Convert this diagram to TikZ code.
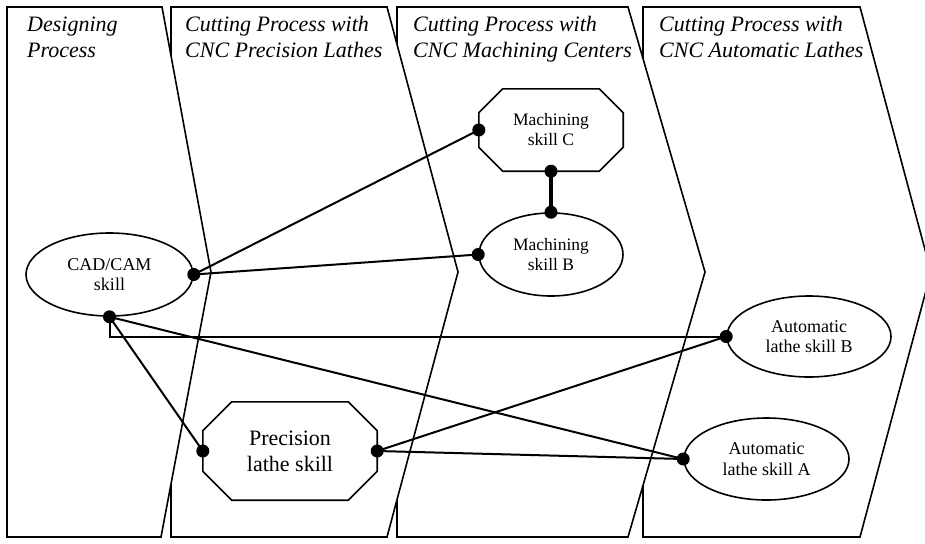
\documentclass[tikz,border=0pt]{standalone}
\usepackage{fontspec}
\setmainfont{Liberation Serif}
\usetikzlibrary{calc,shapes.geometric}
\newcommand{\octpath}[2]{%
  \draw[octline] ($(#1.north west)+(#2,0)$) -- ($(#1.north east)+(-#2,0)$)
    -- ($(#1.north east)+(0,#2)$) -- ($(#1.south east)+(0,-#2)$)
    -- ($(#1.south east)+(-#2,0)$) -- ($(#1.south west)+(#2,0)$)
    -- ($(#1.south west)+(0,-#2)$) -- ($(#1.north west)+(0,#2)$) -- cycle;}
\begin{document}
\begin{tikzpicture}[x=1pt,y=-1pt,
  lane/.style={draw=black,fill=white,line width=1.6pt,line join=miter},
  conn/.style={line width=2pt},
  thickconn/.style={line width=4pt},
  skill/.style={draw,ellipse,line width=1.6pt,inner sep=0pt,align=center},
  octbox/.style={inner sep=0pt,align=center},
  octline/.style={line width=1.6pt},
  head/.style={anchor=base west,inner sep=0pt,font=\fontsize{22}{26}\selectfont\itshape},
  fmach/.style={font=\fontsize{17.5}{20}\selectfont},
  fmid/.style={font=\fontsize{18}{20.5}\selectfont},
  fbig/.style={font=\fontsize{22}{26}\selectfont}
]
\clip (0,0) rectangle (925,543);
\fill[white] (0,0) rectangle (925,543);
% lanes (right to left so that each point covers the next lane's edge)
\draw[lane] (643,7) -- (860,7) -- (931,272) -- (860,537) -- (643,537) -- cycle;
\draw[lane] (397,7) -- (628,7) -- (705,272) -- (628,537) -- (397,537) -- cycle;
\draw[lane] (171,7) -- (387,7) -- (458,272) -- (387,537) -- (171,537) -- cycle;
\draw[lane] (7,7) -- (162,7) -- (211,272) -- (161,537) -- (7,537) -- cycle;
% headings
\node[head] (h1a) at (27,32) {Designing};
\node[head] (h1b) at (27,58) {Process};
\node[head] (h2a) at (185,32) {Cutting Process with};
\node[head] (h2b) at (185,58) {CNC Precision Lathes};
\node[head] (h3a) at (413,32) {Cutting Process with};
\node[head] (h3b) at (413,58) {CNC Machining Centers};
\node[head] (h4a) at (659,32) {Cutting Process with};
\node[head] (h4b) at (659,58) {CNC Automatic Lathes};
% skill nodes
\node[skill,fmid,minimum width=167pt,minimum height=83pt] (cad) at (109.5,274.5) {CAD/CAM\\skill};
\node[octbox,fmach,minimum width=144pt,minimum height=82pt] (mc) at (551,130) {Machining\\skill C};
\octpath{mc}{24}
\node[skill,fmach,minimum width=144pt,minimum height=83pt] (mb) at (551,254.5) {Machining\\skill B};
\node[skill,fmid,minimum width=164pt,minimum height=81pt] (ab) at (809,336.5) {Automatic\\lathe skill B};
\node[skill,fmid,minimum width=165pt,minimum height=82pt] (aa) at (766.5,459) {Automatic\\lathe skill A};
\node[octbox,fbig,minimum width=174pt,minimum height=98pt] (pl) at (290,451) {Precision\\lathe skill};
\octpath{pl}{29}
% connectors
\draw[conn] (cad.east) -- (mc.west);
\draw[conn] (cad.east) -- (mb.west);
\draw[conn] (cad.south) |- (ab.west);
\draw[conn] (cad.south) -- (aa.west);
\draw[conn] (cad.south) -- (pl.west);
\draw[conn] (pl.east) -- (ab.west);
\draw[conn] (pl.east) -- (aa.west);
\draw[thickconn] (mc.south) -- (mb.north);
% dots
\foreach \p in {cad.east,cad.south,mc.west,mc.south,mb.north,mb.west,ab.west,aa.west,pl.west,pl.east}
  \fill (\p) circle[radius=6.5pt];
\end{tikzpicture}
\end{document}
